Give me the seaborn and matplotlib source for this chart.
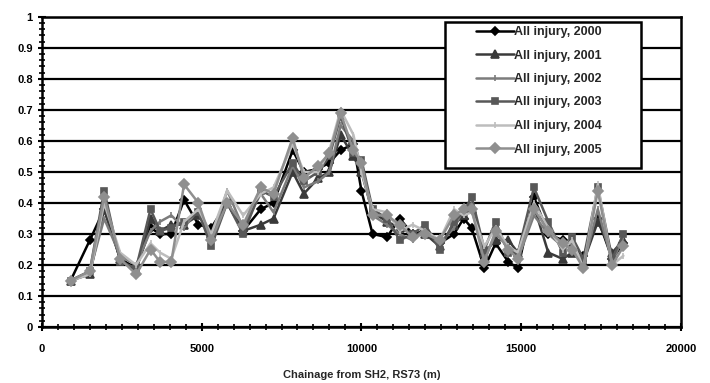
import matplotlib
matplotlib.use("Agg")
import matplotlib.pyplot as plt
import seaborn as sns
import pandas as pd
from matplotlib.ticker import MultipleLocator, FuncFormatter
from matplotlib.patches import Rectangle

chainage = [900, 1500, 1950, 2450, 2950, 3400, 3700, 4050, 4450, 4900, 5300, 5800,
            6300, 6850, 7250, 7850, 8200, 8650, 9000, 9350, 9750, 10000, 10350, 10800,
            11200, 11600, 12000, 12450, 12900, 13200, 13450, 13850, 14200, 14600, 14900,
            15400, 15850, 16300, 16600, 16950, 17400, 17850, 18200]

y2000 = [0.15, 0.28, 0.38, 0.22, 0.19, 0.32, 0.30, 0.30, 0.41, 0.33, 0.32, 0.40, 0.31, 0.38,
         0.40, 0.57, 0.50, 0.51, 0.53, 0.57, 0.59, 0.44, 0.30, 0.29, 0.35, 0.30, 0.31, 0.27,
         0.30, 0.35, 0.32, 0.19, 0.27, 0.21, 0.19, 0.42, 0.30, 0.28, 0.26, 0.23, 0.35, 0.22, 0.27]
y2001 = [0.15, 0.17, 0.38, 0.22, 0.18, 0.35, 0.31, 0.33, 0.33, 0.36, 0.30, 0.40, 0.31, 0.33,
         0.35, 0.50, 0.43, 0.48, 0.50, 0.62, 0.55, 0.50, 0.37, 0.34, 0.32, 0.30, 0.30, 0.26,
         0.33, 0.36, 0.38, 0.24, 0.28, 0.28, 0.24, 0.39, 0.24, 0.22, 0.24, 0.21, 0.34, 0.24, 0.28]
y2002 = [0.15, 0.18, 0.35, 0.23, 0.20, 0.31, 0.34, 0.36, 0.32, 0.38, 0.28, 0.44, 0.32, 0.43,
         0.37, 0.52, 0.45, 0.47, 0.50, 0.65, 0.60, 0.52, 0.36, 0.33, 0.30, 0.28, 0.32, 0.27,
         0.32, 0.38, 0.40, 0.22, 0.30, 0.26, 0.22, 0.36, 0.30, 0.26, 0.27, 0.20, 0.38, 0.21, 0.29]
y2003 = [0.15, 0.18, 0.44, 0.21, 0.19, 0.38, 0.31, 0.32, 0.34, 0.37, 0.26, 0.40, 0.30, 0.44,
         0.42, 0.53, 0.47, 0.50, 0.55, 0.68, 0.56, 0.54, 0.38, 0.35, 0.28, 0.30, 0.33, 0.25,
         0.34, 0.37, 0.42, 0.25, 0.34, 0.24, 0.24, 0.45, 0.34, 0.24, 0.29, 0.22, 0.45, 0.22, 0.30]
y2004 = [0.15, 0.17, 0.40, 0.24, 0.20, 0.27, 0.24, 0.22, 0.34, 0.38, 0.30, 0.44, 0.36, 0.43,
         0.45, 0.59, 0.50, 0.50, 0.57, 0.70, 0.62, 0.50, 0.38, 0.37, 0.31, 0.33, 0.31, 0.28,
         0.38, 0.36, 0.37, 0.26, 0.32, 0.26, 0.24, 0.40, 0.32, 0.25, 0.28, 0.19, 0.46, 0.20, 0.23]
y2005 = [0.15, 0.18, 0.42, 0.22, 0.17, 0.25, 0.21, 0.21, 0.46, 0.40, 0.28, 0.40, 0.33, 0.45,
         0.43, 0.61, 0.48, 0.52, 0.56, 0.69, 0.57, 0.53, 0.36, 0.36, 0.33, 0.29, 0.30, 0.28,
         0.36, 0.38, 0.38, 0.21, 0.31, 0.25, 0.22, 0.38, 0.31, 0.27, 0.25, 0.19, 0.44, 0.20, 0.26]

labels = ["All injury, 2000", "All injury, 2001", "All injury, 2002",
          "All injury, 2003", "All injury, 2004", "All injury, 2005"]
series = [y2000, y2001, y2002, y2003, y2004, y2005]

colors = ["#000000", "#3a3a3a", "#7c7c7c", "#585858", "#bdbdbd", "#8f8f8f"]
markers = ["D", "^", "|", "s", "|", "D"]
msizes = [4.5, 5.5, 5, 5, 5, 5]

sns.set_theme(style="white")
plt.rcParams['font.family'] = ['Liberation Sans', 'DejaVu Sans']
plt.rcParams['font.weight'] = 'bold'

fig = plt.figure(figsize=(7.10, 3.83), dpi=100)
ax = fig.add_axes([0.059, 0.146, 0.900, 0.810])

for lab, ys, c, m, ms in zip(labels, series, colors, markers, msizes):
    df = pd.DataFrame({"x": chainage, "y": ys})
    sns.lineplot(data=df, x="x", y="y", ax=ax, color=c, marker=m, markersize=ms,
                 markeredgecolor=c, markeredgewidth=1.2, linewidth=1.8, label=lab,
                 sort=False)

ax.set_xlim(0, 20000)
ax.set_ylim(0, 1)
ax.yaxis.set_major_locator(MultipleLocator(0.1))
ax.yaxis.set_minor_locator(MultipleLocator(0.02))
ax.xaxis.set_major_locator(MultipleLocator(5000))
ax.xaxis.set_minor_locator(MultipleLocator(500))
ax.yaxis.set_major_formatter(FuncFormatter(lambda v, p: "%g" % round(v, 2)))
ax.grid(axis="y", which="major", color="black", linewidth=1.6)
ax.set_axisbelow(True)

for s in ax.spines.values():
    s.set_color("black")
    s.set_linewidth(1.8)

ax.tick_params(axis="both", which="major", direction="inout", length=6, width=1.5,
               labelsize=8, colors="black", left=True, bottom=True)
ax.tick_params(axis="x", which="major", pad=9)
ax.tick_params(axis="both", which="minor", direction="inout", length=4, width=1.2,
               left=True, bottom=True, colors="black")
for t in ax.get_xticklabels() + ax.get_yticklabels():
    t.set_fontweight("bold")

ax.set_xlabel("Chainage from SH2, RS73 (m)", fontsize=8, fontweight="bold", labelpad=12)
ax.set_ylabel("")

# legend box (drawn as a patch in figure pixels) and frameless legend content
W, H = 710.0, 383.0
box = Rectangle((445 / W, 1 - 168 / H), (641 - 445) / W, (168 - 22) / H,
                transform=fig.transFigure, facecolor="white", edgecolor="black",
                linewidth=1.8, zorder=4.5)
ax.add_patch(box)
box.set_clip_on(False)

leg = ax.legend(loc="upper left", bbox_to_anchor=(476 / W, 1 - 26 / H),
                bbox_transform=fig.transFigure, frameon=False,
                prop={"size": 9, "weight": "bold"}, handlelength=3.0,
                labelspacing=0.92, borderpad=0, handletextpad=0.05,
                borderaxespad=0)
leg.set_zorder(5)

fig.savefig("out.png", dpi=100)
